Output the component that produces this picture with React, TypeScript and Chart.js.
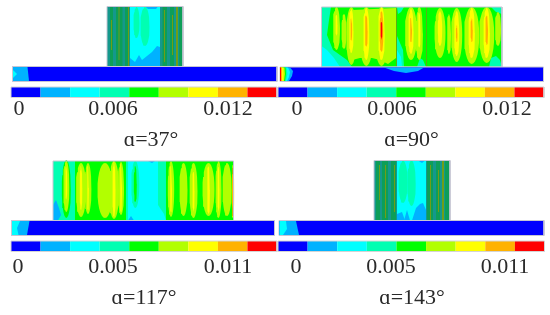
import React, { useEffect, useRef } from "react";
import { Chart, registerables } from "chart.js";

Chart.register(...registerables);

// Contour levels shared by all colour bars (lowest to highest)
const levelColors = ["#0000ff", "#00b2ff", "#00ffff", "#00ffb2", "#00ff00", "#b2ff00", "#ffff00", "#ffb200", "#ff0000"];
// Dense-mesh shades seen on the narrow blocks (index 9, 10, 11 continue the level list)
const meshColors = ["#14988c", "#0d9e58", "#6f9e18"];
const allColors = [...levelColors, ...meshColors];
const TEAL = 9, GREEN = 10, OLIVE = 11;

type Rect = [number, number, number, number, number]; // x0, x1, y0, y1, level
type Lens = [number, number, number, number, number]; // cx, half width, top, bottom, level
type Poly = [number, [number, number][]];

// ---------- alpha = 37 ----------
const titleA = "ɑ=37°";
const tickPosA = [19, 113, 228];
const tickLabA = ["0", "0.006", "0.012"];
const barA = [11, 277, 87, 97.5];
const rectsA: Rect[] = [
  [107, 130, 6.5, 66.5, TEAL], [110, 113, 6.5, 66.5, GREEN], [116, 122.5, 6.5, 66.5, GREEN], [118.5, 119.5, 6.5, 60, OLIVE],
  [125, 129, 6.5, 66.5, GREEN], [128, 129, 6.5, 66.5, OLIVE], [111, 112, 20, 50, OLIVE],
  [130, 160, 6.5, 66.5, 2],
  [160, 183, 6.5, 66.5, TEAL], [162.5, 167, 6.5, 66.5, GREEN], [164, 165, 10, 62, OLIVE], [170, 174, 6.5, 66.5, GREEN],
  [176, 178, 6.5, 66.5, OLIVE], [179, 183, 6.5, 66.5, GREEN], [172, 173, 15, 55, OLIVE],
];
const lensesA: Lens[] = [[136.5, 3, 7, 38, 3], [145, 4.5, 7, 46, 3]];
const polysA: Poly[] = [
  [1, [[130, 67], [130, 58], [135, 62], [139, 55], [142, 60], [147, 56], [152, 52], [157, 46], [160, 47], [160, 67]]],
  [1, [[145, 6.5], [158, 6.5], [156, 9], [148, 9]]],
];
const plateA = [12.5, 277, 66.5, 81.5];
const platePolysA: Poly[] = [
  [1, [[13, 67], [27.5, 67], [29, 81], [13, 81]]],
  [2, [[13, 70], [17, 74], [13, 78]]],
];

// ---------- alpha = 90 ----------
const titleB = "ɑ=90°";
const tickPosB = [297, 392, 507];
const tickLabB = ["0", "0.006", "0.012"];
const barB = [278, 544, 87, 97.5];
const rectsB: Rect[] = [[321.5, 502, 7, 67, 4]];
const polysB: Poly[] = [
  [3, [[321.5, 7], [331, 7], [329, 20], [327, 35], [333, 50], [347, 60], [352, 67], [321.5, 67]]],
  [2, [[321.5, 46], [327, 50], [334, 58], [340, 67], [321.5, 67]]],
  [3, [[397, 36], [403, 50], [404, 67], [397, 67]]],
  [2, [[397, 50], [401, 57], [402, 67], [397, 67]]],
  [3, [[397, 7], [404, 7], [401, 12], [398, 14]]],
  [3, [[417, 67], [420, 58], [423, 60], [426, 67]]],
  [3, [[489, 67], [491, 58], [496, 56], [500, 60], [502, 67]]],
  [3, [[491, 7], [502, 7], [502, 14], [496, 12]]],
  [5, [[352, 10], [396, 8], [396, 58], [388, 64], [380, 60], [372, 58], [360, 58], [352, 60]]],
];
const lensesB: Lens[] = [
  [336.5, 3.5, 7, 50, 5], [336.5, 1, 14, 36, 6], [344, 2.5, 14, 49, 5],
  [351.3, 5, 7, 65, 5], [351.3, 2.2, 9, 53, 6], [351.3, 0.8, 18, 41, 7],
  [366.3, 6.5, 7, 66, 5], [366.3, 3, 8, 60, 6], [366.3, 1.3, 15, 47, 7],
  [381.5, 6.5, 7, 66, 5], [381.5, 3.2, 7, 60, 6], [381.5, 1.8, 11, 52, 7], [381.5, 0.8, 20, 40, 8],
  [411, 6, 7, 60, 5], [411, 2.6, 9, 54, 6], [411, 1, 18, 42, 7], [419.3, 3.6, 7, 60, 5], [419.3, 1.2, 12, 48, 6],
  [440, 5.5, 8, 58, 5], [440, 2.2, 11, 46, 6], [449, 2, 14, 54, 5], [456.7, 5.5, 8, 62, 5], [456.7, 2.5, 11, 56, 6],
  [456.7, 0.8, 25, 42, 7], [471.7, 7.5, 7, 64, 5], [471.7, 3.2, 8, 58, 6], [471.7, 1.1, 18, 42, 7],
  [486.7, 7.5, 7, 63, 5], [486.7, 3.2, 8, 58, 6], [486.7, 1.3, 15, 45, 7], [498, 3, 12, 46, 5],
];
const dividersB: Rect[] = [[396.2, 397, 7, 67, OLIVE], [426.2, 427, 7, 67, OLIVE]];
const plateB = [280, 543.5, 67, 81.5];
const platePolysB: Poly[] = [
  [1, [[280, 67.5], [290, 67.5], [293, 71], [292, 76], [289, 81], [280, 81]]],
  [2, [[280, 67.5], [288, 67.5], [290, 72], [289, 77], [287, 81], [280, 81]]],
  [3, [[280, 67.5], [286.5, 67.5], [287.5, 74], [286, 81], [280, 81]]],
  [4, [[280, 67.5], [285.5, 67.5], [286, 74], [285, 81], [280, 81]]],
  [5, [[280, 67.5], [284.5, 67.5], [285, 74], [284, 81], [280, 81]]],
  [6, [[280, 67.5], [283.5, 67.5], [283.5, 81], [280, 81]]],
  [7, [[280, 67.5], [282, 67.5], [282, 81], [280, 81]]],
  [8, [[280, 67.5], [281, 67.5], [281, 81], [280, 81]]],
  [1, [[384, 67.5], [424, 67.5], [418, 71], [406, 73], [394, 71]]],
];

// ---------- alpha = 117 ----------
const titleC = "ɑ=117°";
const tickPosC = [18, 113, 228];
const tickLabC = ["0", "0.005", "0.011"];
const barC = [11, 277, 241, 251.5];
const rectsC: Rect[] = [
  [53, 128, 161, 220.5, 3], [128, 158, 161, 220.5, 2], [158, 233.5, 161, 220.5, 3],
  [75, 126, 161, 220.5, 4], [166, 233, 161, 220.5, 4],
];
const polysC: Poly[] = [
  [2, [[158, 205], [164, 214], [166, 220.5], [158, 220.5]]],
  [1, [[53, 220.5], [53, 205], [56, 200], [59, 208], [61, 215], [58, 220.5]]],
  [1, [[128, 220.5], [131, 216], [134, 220.5]]],
  [1, [[148, 161], [155, 161], [152, 163]]],
];
const lensesC: Lens[] = [
  [66.3, 4.5, 160, 218, 4], [66.3, 3, 161, 212, 5], [66.3, 0.9, 166, 200, 6],
  [81, 5, 163, 217, 5], [81, 1.3, 166, 210, 6],
  [88, 3.4, 163, 214, 5], [88, 0.9, 166, 210, 6],
  [105, 7.5, 163, 218, 5],
  [114, 5, 161, 219, 5], [114, 1.5, 161, 217, 6],
  [121, 3, 162, 215, 5], [121, 1, 164, 212, 6],
  [135.3, 4, 161, 208, 3], [135.3, 1.5, 166, 202, 4],
  [171, 3.2, 161, 217, 5], [171, 1, 166, 212, 6],
  [183.5, 4, 163, 216, 5],
  [193.5, 4, 163, 218, 5], [193.5, 1, 170, 212, 6],
  [208.5, 6, 163, 216, 5], [208.5, 1.4, 166, 214, 6],
  [218.5, 3, 161, 218, 5], [218.5, 1, 165, 212, 6],
  [227, 4.5, 163, 216, 5], [233, 1.2, 165, 218, 6],
];
const edgeC: Rect[] = [[232.7, 233.7, 168, 216, 8]];
const plateC = [11.5, 274.5, 220.5, 235.5];
const platePolysC: Poly[] = [
  [1, [[12, 221], [29.5, 221], [27, 235], [12, 235]]],
  [2, [[12, 221], [20, 221], [17, 228], [18.5, 235], [12, 235]]],
];

// ---------- alpha = 143 ----------
const titleD = "ɑ=143°";
const tickPosD = [296, 391, 505];
const tickLabD = ["0", "0.005", "0.011"];
const barD = [278, 544.5, 241, 251.5];
const rectsD: Rect[] = [
  [374, 397, 160.5, 220.5, TEAL], [376, 380, 160.5, 220.5, GREEN], [382, 388, 160.5, 220.5, GREEN], [385, 386, 165, 218, OLIVE],
  [391, 396, 160.5, 220.5, GREEN], [394, 395, 165, 212, OLIVE], [379, 380, 165, 200, OLIVE],
  [397, 426, 160.5, 220.5, 2],
  [426, 450, 160.5, 220.5, TEAL], [427, 433, 160.5, 220.5, GREEN], [430, 431, 165, 220, OLIVE], [436, 440, 160.5, 220.5, GREEN],
  [442, 444, 160.5, 220.5, OLIVE], [445, 449.5, 160.5, 220.5, GREEN], [438, 439, 170, 212, OLIVE],
];
const lensesD: Lens[] = [[403, 4.5, 160.5, 203, 3], [411.5, 4.2, 160.5, 206, 3]];
const polysD: Poly[] = [
  [1, [[397, 220.5], [397, 214], [402, 212], [405, 220.5]]],
  [1, [[404, 220.5], [407, 210], [410, 220.5]]],
  [1, [[412, 220.5], [416, 208], [420, 204], [423, 203], [426, 210], [426, 220.5]]],
  [1, [[418, 160.5], [425, 160.5], [422, 163]]],
];
const plateD = [279, 544, 220.5, 235.5];
const platePolysD: Poly[] = [
  [1, [[279.5, 221], [296, 221], [299, 235], [279.5, 235]]],
  [2, [[279.5, 221], [286, 221], [287, 229], [283, 235], [279.5, 235]]],
];

const FONT = "'Liberation Serif', 'Times New Roman', serif";
const TEXT = "#2a2a2a";
const EDGE = "#c6c6d4";

function rectPoly(x0: number, x1: number, y0: number, y1: number) {
  return [{ x: x0, y: y0 }, { x: x1, y: y0 }, { x: x1, y: y1 }, { x: x0, y: y1 }, { x: x0, y: y0 }];
}

// closed lens-shaped outline of one contour band
function lensPoly(cx: number, hw: number, top: number, bottom: number) {
  const pts: { x: number; y: number }[] = [];
  const my = (top + bottom) / 2;
  const hh = (bottom - top) / 2;
  const n = 28;
  for (let i = 0; i <= n; i++) {
    const a = (i / n) * Math.PI * 2;
    const c = Math.cos(a);
    const s = Math.sin(a);
    pts.push({
      x: cx + hw * Math.sign(c) * Math.abs(c),
      y: my + hh * Math.sign(s) * Math.pow(Math.abs(s), 0.9),
    });
  }
  return pts;
}

function shape(data: { x: number; y: number }[], color: string, edge?: string) {
  return {
    type: "line" as const,
    data,
    fill: "shape",
    backgroundColor: color,
    borderColor: edge || color,
    borderWidth: edge ? 1 : 0,
    pointRadius: 0,
    pointHoverRadius: 0,
    tension: 0,
    clip: false,
  };
}

type Panel = {
  left: number; top: number; width: number; height: number;
  yMin: number; yMax: number; h1: number; h2: number; pad1: number; pad2: number;
  title: string; titleX: number; tickPos: number[]; tickLab: string[];
  bar: number[]; plate: number[]; rects: Rect[]; lenses: Lens[]; polys: Poly[];
  over: Rect[]; platePolys: Poly[]; block: number[];
};

const panels: Panel[] = [
  { left: 0, top: 0, width: 279, height: 155, yMin: 0, yMax: 98, h1: 28, h2: 29, pad1: -2, pad2: 1,
    title: titleA, titleX: 151, tickPos: tickPosA, tickLab: tickLabA, bar: barA, plate: plateA,
    rects: rectsA, lenses: lensesA, polys: polysA, over: [], platePolys: platePolysA, block: [107, 183, 6.5, 66.5] },
  { left: 275, top: 0, width: 275, height: 155, yMin: 0, yMax: 98, h1: 28, h2: 29, pad1: -2, pad2: 1,
    title: titleB, titleX: 411.5, tickPos: tickPosB, tickLab: tickLabB, bar: barB, plate: plateB,
    rects: rectsB, lenses: lensesB, polys: polysB, over: dividersB, platePolys: platePolysB, block: [321.5, 502, 7, 67] },
  { left: 0, top: 155, width: 279, height: 160, yMin: 155, yMax: 252, h1: 28, h2: 35, pad1: 2, pad2: 5,
    title: titleC, titleX: 144, tickPos: tickPosC, tickLab: tickLabC, bar: barC, plate: plateC,
    rects: rectsC, lenses: lensesC, polys: polysC, over: edgeC, platePolys: platePolysC, block: [53, 233.5, 161, 220.5] },
  { left: 275, top: 155, width: 275, height: 160, yMin: 155, yMax: 252, h1: 28, h2: 35, pad1: 2, pad2: 5,
    title: titleD, titleX: 412, tickPos: tickPosD, tickLab: tickLabD, bar: barD, plate: plateD,
    rects: rectsD, lenses: lensesD, polys: polysD, over: [], platePolys: platePolysD, block: [374, 450, 160.5, 220.5] },
];

function buildDatasets(p: Panel) {
  const layers: any[] = [];
  // block contour bands
  p.rects.forEach(([x0, x1, y0, y1, l]) => layers.push(shape(rectPoly(x0, x1, y0, y1), allColors[l])));
  p.polys.forEach(([l, pts]) => layers.push(shape(pts.map(([x, y]) => ({ x, y })), allColors[l])));
  p.lenses.forEach(([cx, hw, t, b, l]) => layers.push(shape(lensPoly(cx, hw, t, b), allColors[l])));
  p.over.forEach(([x0, x1, y0, y1, l]) => layers.push(shape(rectPoly(x0, x1, y0, y1), allColors[l])));
  // block outline
  const [bx0, bx1, by0, by1] = p.block;
  layers.push({ ...shape(rectPoly(bx0, bx1, by0, by1), "transparent", EDGE), fill: false });
  // plate
  const [px0, px1, py0, py1] = p.plate;
  layers.push(shape(rectPoly(px0, px1, py0, py1), levelColors[0], EDGE));
  p.platePolys.forEach(([l, pts]) => layers.push(shape(pts.map(([x, y]) => ({ x, y })), allColors[l])));
  // colour bar
  const [cx0, cx1, cy0, cy1] = p.bar;
  const step = (cx1 - cx0) / levelColors.length;
  levelColors.forEach((c, i) => layers.push(shape(rectPoly(cx0 + i * step, cx0 + (i + 1) * step, cy0, cy1), c)));
  layers.push({ ...shape(rectPoly(cx0, cx1, cy0, cy1), "transparent", "#d4d4d4"), fill: false });
  // later entries paint on top
  return layers.map((d, i) => ({ ...d, order: -i }));
}

function PanelChart({ p }: { p: Panel }) {
  const ref = useRef<HTMLCanvasElement>(null);
  useEffect(() => {
    const xMin = p.left;
    const xMax = p.left + p.width;
    const chart = new Chart(ref.current!, {
      type: "line",
      data: { datasets: buildDatasets(p) },
      options: {
        animation: false,
        responsive: false,
        events: [],
        layout: { autoPadding: false, padding: 0 },
        plugins: { legend: { display: false }, tooltip: { enabled: false } },
        scales: {
          x: {
            type: "linear", min: xMin, max: xMax, position: "bottom", weight: 0,
            grid: { display: false, drawTicks: false }, border: { display: false },
            afterBuildTicks: (s: any) => { s.ticks = p.tickPos.map((value) => ({ value })); },
            afterFit: (s: any) => { s.height = p.h1; },
            ticks: {
              autoSkip: false, maxRotation: 0, minRotation: 0, padding: p.pad1, color: TEXT,
              font: { family: FONT, size: 22 },
              callback: (_v: any, i: number) => p.tickLab[i],
            },
          },
          x2: {
            type: "linear", min: xMin, max: xMax, position: "bottom", weight: 1,
            grid: { display: false, drawTicks: false }, border: { display: false },
            afterBuildTicks: (s: any) => { s.ticks = [{ value: p.titleX }]; },
            afterFit: (s: any) => { s.height = p.h2; },
            ticks: {
              autoSkip: false, maxRotation: 0, minRotation: 0, padding: p.pad2, color: TEXT,
              font: { family: FONT, size: 22 },
              callback: () => p.title,
            },
          },
          y: { type: "linear", reverse: true, min: p.yMin, max: p.yMax, display: false },
        },
      } as any,
    });
    return () => chart.destroy();
  }, [p]);
  return (
    <canvas
      ref={ref}
      width={p.width}
      height={p.height}
      style={{ position: "absolute", left: p.left, top: p.top, width: p.width, height: p.height, display: "block", filter: "blur(0.5px)" }}
    />
  );
}

export default function App() {
  return (
    <div style={{ position: "absolute", left: 0, top: 0, width: 550, height: 315, background: "#fff", overflow: "hidden" }}>
      {panels.map((p) => <PanelChart key={p.title} p={p} />)}
    </div>
  );
}
